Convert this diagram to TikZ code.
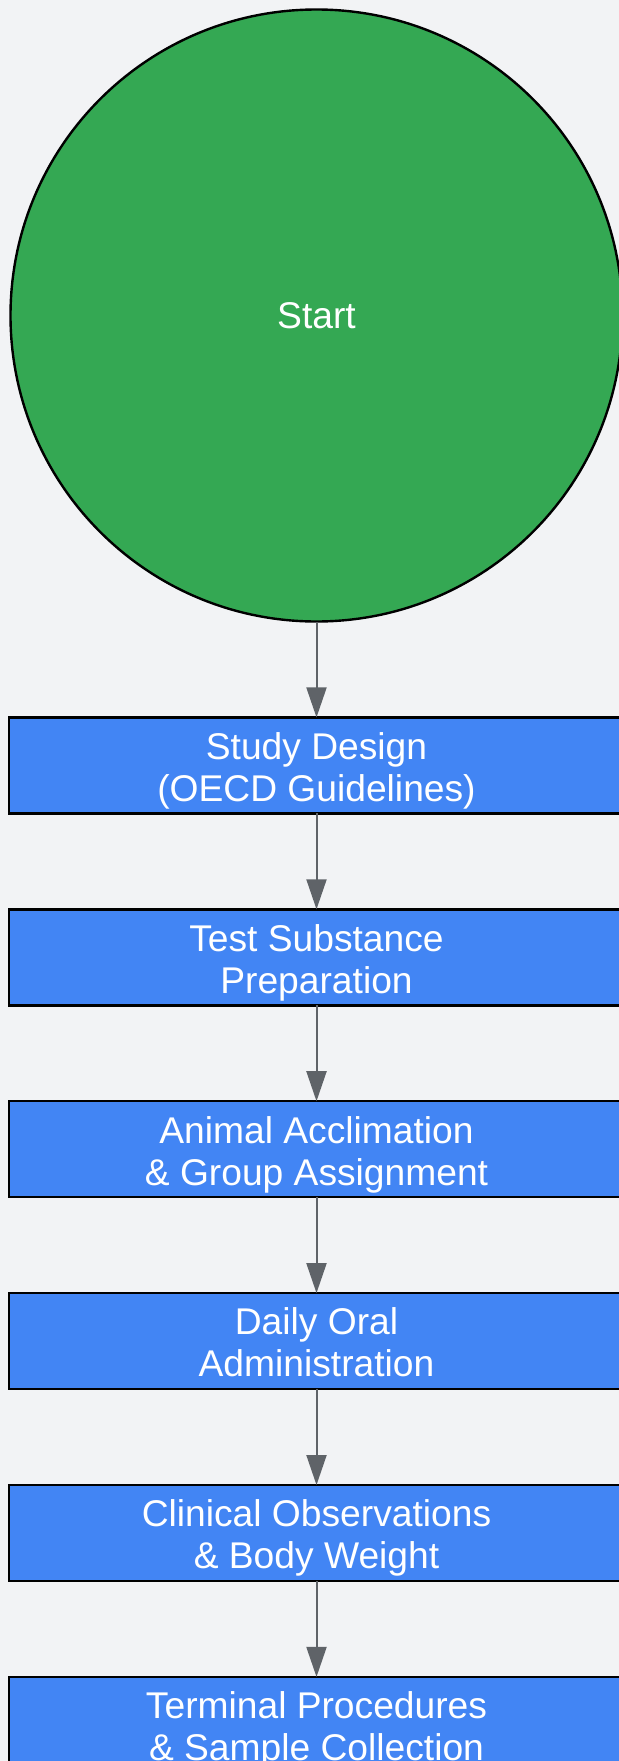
\documentclass[tikz,border=0pt]{standalone}
\usepackage{fontspec}
\setmainfont{Liberation Sans}
\usepackage{xcolor}
\definecolor{pagebg}{RGB}{242,243,245}
\definecolor{startgreen}{RGB}{52,168,83}
\definecolor{stepblue}{RGB}{66,133,244}
\definecolor{arrowgray}{RGB}{95,99,104}
\usepackage{tikz}
\usetikzlibrary{positioning}
\usetikzlibrary{arrows.meta}

\begin{document}
\begin{tikzpicture}[
  startcirc/.style={shape=circle,draw=black,line width=1.2pt,fill=startgreen,text=white,minimum size=306pt,inner sep=0pt,outer sep=0pt},
  procbox/.style={shape=rectangle,draw=black,line width=1.2pt,fill=stepblue,text=white,minimum width=307.5pt,minimum height=48pt,inner sep=0pt,outer sep=0pt,align=center,text height=38.8pt,text depth=3pt},
  flowarrow/.style={draw=arrowgray,line width=1pt,-{Triangle[length=15pt,width=10pt]}},
  node distance=47.95pt,
  font=\fontsize{18.6}{21}\selectfont
]
\fill[pagebg] (0,0) rectangle (309.5pt,-880.5pt);
\useasboundingbox (0,0) rectangle (309.5pt,-880.5pt);
\node (start) at (158.25pt,-157.75pt) [startcirc]{Start};
\node (design) [procbox,below=of start]{Study Design\\(OECD Guidelines)};
\node (prep) [procbox,below=of design]{Test Substance\\Preparation};
\node (acclim) [procbox,below=of prep]{Animal Acclimation\\\& Group Assignment};
\node (dosing) [procbox,below=of acclim]{Daily Oral\\Administration};
\node (observe) [procbox,below=of dosing]{Clinical Observations\\\& Body Weight};
\node (terminal) [procbox,below=of observe]{Terminal Procedures\\\& Sample Collection};
\draw[flowarrow] (start) -- (design);
\draw[flowarrow] (design) -- (prep);
\draw[flowarrow] (prep) -- (acclim);
\draw[flowarrow] (acclim) -- (dosing);
\draw[flowarrow] (dosing) -- (observe);
\draw[flowarrow] (observe) -- (terminal);
\end{tikzpicture}
\end{document}
